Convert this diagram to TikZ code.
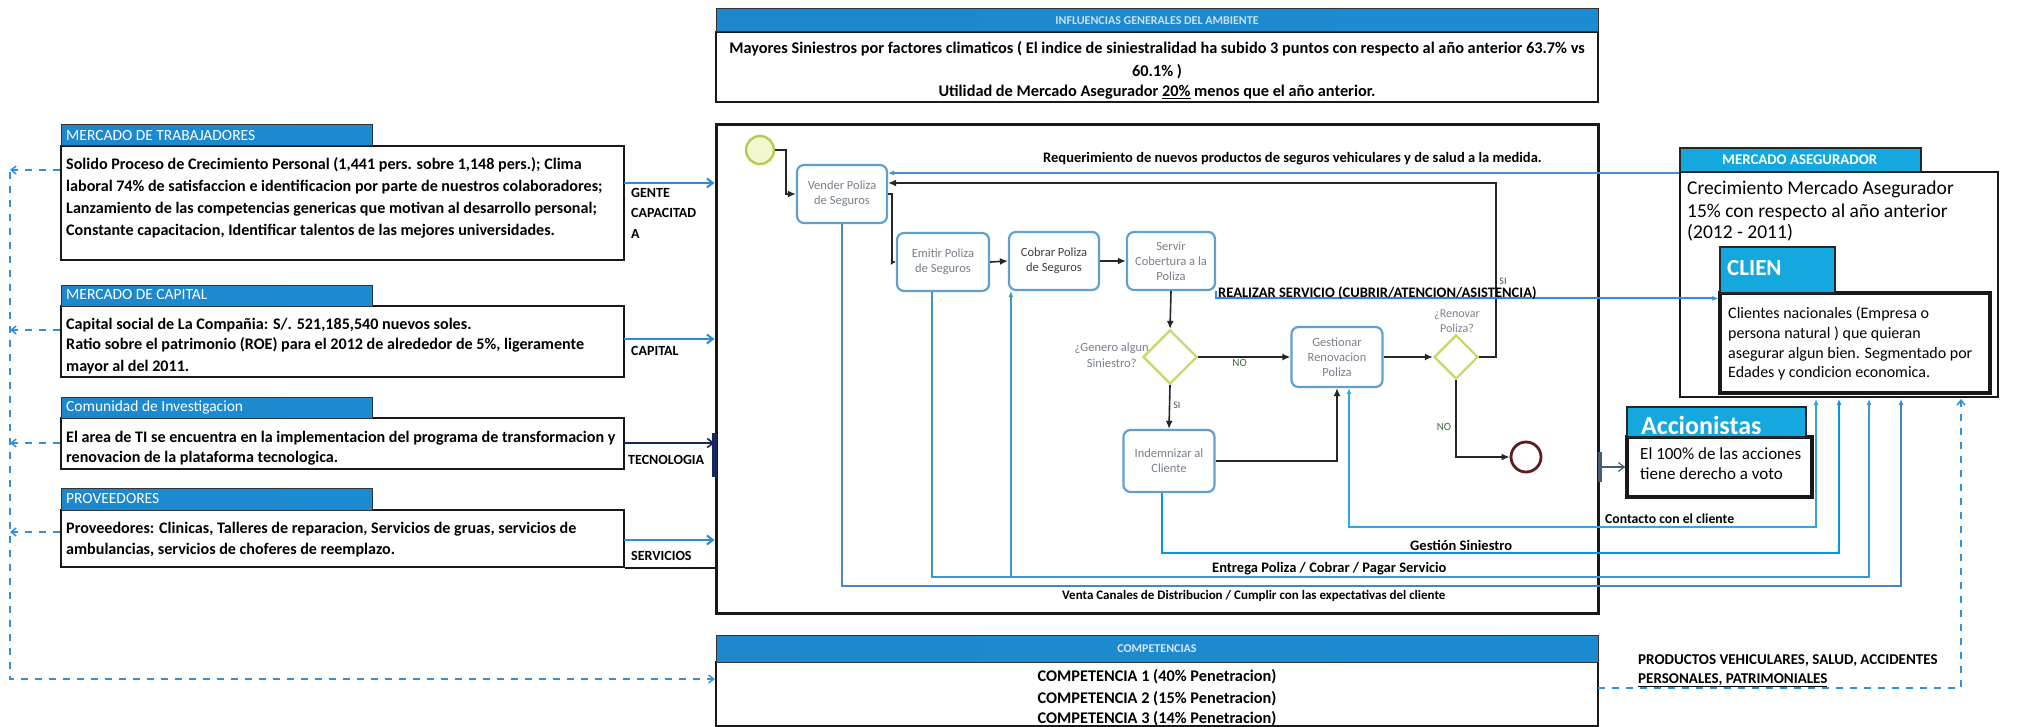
\documentclass[tikz,border=0pt]{standalone}
\usepackage{fontspec}
\setmainfont{Carlito}
\usetikzlibrary{arrows.meta,shapes.geometric,fit,calc}

\definecolor{hdrL}{RGB}{30,135,205}
\definecolor{hdrM}{RGB}{30,175,228}
\definecolor{hdrR}{RGB}{28,140,210}
\definecolor{cyanhdr}{RGB}{20,168,222}
\definecolor{taskblue}{RGB}{96,160,208}
\definecolor{gateyl}{RGB}{204,214,100}
\definecolor{startfill}{RGB}{242,247,205}
\definecolor{startline}{RGB}{178,204,80}
\definecolor{endline}{RGB}{92,30,30}
\definecolor{reqblue}{RGB}{72,142,202}
\definecolor{srvblue}{RGB}{52,142,212}
\definecolor{conblue}{RGB}{45,168,226}
\definecolor{gesblue}{RGB}{0,152,226}
\definecolor{entblue}{RGB}{62,148,208}
\definecolor{venblue}{RGB}{66,136,200}
\definecolor{dashblue}{RGB}{50,145,218}
\definecolor{inblue}{RGB}{45,140,212}
\definecolor{navyln}{RGB}{22,40,92}
\definecolor{slateln}{RGB}{72,92,122}
\definecolor{tasktext}{RGB}{120,128,138}
\definecolor{lblgreen}{RGB}{60,110,60}

\newcommand{\fs}[2]{\fontsize{#1}{#2}\selectfont}

\begin{document}
\begin{tikzpicture}[x=1pt,y=-1pt,
  frame/.style={draw=black!90, line width=2.4pt, fill=white, inner sep=0pt},
  hdr/.style={draw=black!80, line width=1pt, left color=hdrL, middle color=hdrM, right color=hdrR, inner sep=0pt},
  cyhdr/.style={draw=black!85, line width=2pt, fill=cyanhdr, inner sep=0pt},
  task/.style={draw=taskblue, line width=2.2pt, rounded corners=7pt, fill=white, align=center,
               text=tasktext, font=\fs{12.5}{15}, inner sep=1pt},
  gate/.style={diamond, aspect=1, draw=gateyl, line width=2.2pt, fill=white, inner sep=0pt},
  flow/.style={draw=black!85, line width=1.6pt, -{Latex[length=8pt,width=7pt]}},
  bl/.style={draw=#1, line width=2pt},
  btip/.style={-{Latex[length=6pt,width=5pt]}},
  dsh/.style={draw=dashblue, line width=1.5pt, dash pattern=on 7pt off 7pt},
  lt/.style={font=\bfseries\fs{16.1}{22}, anchor=base west, inner sep=0pt},
  lbl/.style={font=\bfseries\fs{14}{20}, anchor=base west, inner sep=0pt},
  ct/.style={font=\bfseries\fs{16.3}{22}, anchor=base, inner sep=0pt},
  ht/.style={font=\fs{15.5}{17}, text=white, anchor=west, inner sep=0pt},
  pl/.style={font=\bfseries\fs{14.5}{17}, anchor=base west, inner sep=0pt},
  sm/.style={font=\fs{12.5}{16}, text=tasktext, inner sep=0pt}
]
\useasboundingbox (0,0) rectangle (2044,727);
\fill[white] (0,0) rectangle (2044,727);

% ---------- environment influences (top) ----------
\node[frame, fit={(716,32)(1598,102)}] (topb) {};
\node[hdr, fit={(716,9)(1598,32)}] (toph) {};
\node[font=\bfseries\fs{12}{14}, text=white, opacity=.75, inner sep=0pt] (tophT) at (toph.center) {INFLUENCIAS GENERALES DEL AMBIENTE};
\node[ct] (tp1) at (1157,54) {Mayores Siniestros por factores climaticos ( El indice de siniestralidad ha subido 3 puntos con respecto al año anterior 63.7\% vs};
\node[ct] (tp2) at (1157,77) {60.1\% )};
\node[ct] (tp3) at (1157,97) {Utilidad de Mercado Asegurador \underline{20\%} menos que el año anterior.};

% ---------- left column: inputs ----------
\node[frame, fit={(61,146)(624,260)}] (b1) {};
\node[hdr, fit={(61,125)(372,146)}] (b1h) {};
\node[ht] (b1hT) at (66,136) {MERCADO DE TRABAJADORES};
\node[lt] (b1a) at (66,170) {Solido Proceso de Crecimiento Personal (1,441 pers. sobre 1,148 pers.); Clima};
\node[lt] (b1b) at (66,192) {laboral 74\% de satisfaccion e identificacion por parte de nuestros colaboradores;};
\node[lt] (b1c) at (66,214) {Lanzamiento de las competencias genericas que motivan al desarrollo personal;};
\node[lt] (b1d) at (66,236) {Constante capacitacion, Identificar talentos de las mejores universidades.};
\node[lbl] (l1a) at (631,198) {GENTE};
\node[lbl] (l1b) at (631,218) {CAPACITAD};
\node[lbl] (l1c) at (631,239) {A};

\node[frame, fit={(61,306)(624,377)}] (b2) {};
\node[hdr, fit={(61,285)(372,306)}] (b2h) {};
\node[ht] (b2hT) at (66,295) {MERCADO DE CAPITAL};
\node[lt] (b2a) at (66,329) {Capital social de La Compañia: S/. 521,185,540 nuevos soles.};
\node[lt] (b2b) at (66,349) {Ratio sobre el patrimonio (ROE) para el 2012 de alrededor de 5\%, ligeramente};
\node[lt] (b2c) at (66,371) {mayor al del 2011.};
\node[lbl] (l2) at (631,355) {CAPITAL};

\node[frame, fit={(61,418)(624,469)}] (b3) {};
\node[hdr, fit={(61,397)(372,418)}] (b3h) {};
\node[ht] (b3hT) at (66,407) {Comunidad de Investigacion};
\node[lt] (b3a) at (66,442) {El area de TI se encuentra en la implementacion del programa de transformacion y};
\node[lt] (b3b) at (66,462) {renovacion de la plataforma tecnologica.};
\node[lbl] (l3) at (628,464) {TECNOLOGIA};

\node[frame, fit={(61,510)(624,567)}] (b4) {};
\node[hdr, fit={(61,488)(372,510)}] (b4h) {};
\node[ht] (b4hT) at (66,499) {PROVEEDORES};
\node[lt] (b4a) at (66,533) {Proveedores: Clinicas, Talleres de reparacion, Servicios de gruas, servicios de};
\node[lt] (b4b) at (66,554) {ambulancias, servicios de choferes de reemplazo.};
\node[lbl] (l4) at (631,560) {SERVICIOS};

% ---------- process area ----------
\node[frame, line width=3pt, fit={(716,125)(1598,613)}] (proc) {};
\draw[navyln, line width=4.5pt] (proc.west |- 0,433) -- (proc.west |- 0,477);
\draw[slateln, line width=4pt] (proc.east |- 0,452) -- (proc.east |- 0,482);
\draw[black!90, line width=2.4pt] (b4.south east) -- (b4.south east -| proc.west);

% inputs into the process
\coordinate (gA) at (624,183);
\coordinate (gB) at (624,339);
\coordinate (gC) at (624,443);
\coordinate (gD) at (624,540);
\draw[bl=inblue, -{Straight Barb[length=6pt,width=9pt]}] (gA) -- (gA -| proc.west);
\draw[bl=inblue, -{Straight Barb[length=6pt,width=9pt]}] (gB) -- (gB -| proc.west);
\draw[navyln, line width=1.6pt, -{Straight Barb[length=6pt,width=9pt]}] (gC) -- (gC -| proc.west);
\draw[bl=inblue, -{Straight Barb[length=6pt,width=9pt]}] (gD) -- (gD -| proc.west);

% tasks and gateways
\node[circle, draw=startline, fill=startfill, line width=2.4pt, minimum size=28pt, inner sep=0pt] (start) at (760,150) {};
\node[task, minimum width=90pt, minimum height=58pt] (vender) at (842,194) {Vender Poliza\\de Seguros};
\node[task, minimum width=92pt, minimum height=58pt] (emitir) at (943,262) {Emitir Poliza\\de Seguros};
\node[task, minimum width=90pt, minimum height=58pt, text=black!75] (cobrar) at (1054,261) {Cobrar Poliza\\de Seguros};
\node[task, minimum width=88pt, minimum height=58pt] (servir) at (1171,261) {Servir\\Cobertura a la\\Poliza};
\node[gate, minimum width=54pt, minimum height=54pt] (d1) at (1170,357) {};
\node[task, minimum width=91pt, minimum height=60pt] (gest) at (1337,357) {Gestionar\\Renovacion\\Poliza};
\node[gate, minimum width=44pt, minimum height=44pt] (d2) at (1456,357) {};
\node[circle, draw=endline, fill=white, line width=2.8pt, minimum size=30pt, inner sep=0pt] (endev) at (1526,457) {};
\node[task, minimum width=91pt, minimum height=62pt] (indem) at (1169,461) {Indemnizar al\\Cliente};

\node[sm, align=center, anchor=east] (d1lbl) at (1149,355) {¿Genero algun\\Siniestro?};
\node[sm, align=center, font=\fs{12}{15}] (d2lbl) at (1457,321) {¿Renovar\\Poliza?};

% sequence flows
\draw[flow] (start.east) -- ++(11,0) |- (vender.west);
\draw[flow, -{Latex[length=5pt,width=6pt]}] (vender.east) -- ++(4,0) |- (emitir.west);
\draw[flow] (emitir.east) -- (cobrar.west);
\draw[flow] (cobrar.east) -- (servir.west);
\draw[flow] (servir.south) -- (d1.north);
\draw[flow] (d1.east) -- node[pos=.45, below=2pt, font=\fs{11}{13}, text=lblgreen, inner sep=0pt] (no1) {NO} (gest.west);
\draw[flow] (d1.south) -- node[pos=.45, right=3pt, font=\fs{10}{12}, text=black!70, inner sep=0pt] (si1) {SI} (indem.north);
\draw[flow] (gest.east) -- (d2.west);
\draw[flow] (d2.south) |- (endev.west);
\node[font=\fs{11}{13}, text=lblgreen, inner sep=0pt] (no2) at (1444,427) {NO};
\draw[flow] (indem.east) -| (gest.south);
\draw[flow] (d2.east) -- ++(17,0) |- ([yshift=11pt]vender.east);
\node[font=\fs{10}{12}, text=black!70, inner sep=0pt] (si2) at (1503,281) {SI};

% ---------- market, clients, shareholders ----------
\node[frame, fit={(1680,172)(1998,397)}] (merc) {};
\node[cyhdr, fit={(1680,148)(1921,172)}] (merch) {};
\node[font=\bfseries\fs{14.8}{16}, text=white, anchor=west, inner sep=0pt] (merchT) at (1722,160) {MERCADO ASEGURADOR};
\node[font=\fs{19.5}{22}, anchor=base west, inner sep=0pt] (m1) at (1687,195) {Crecimiento Mercado Asegurador};
\node[font=\fs{19.5}{22}, anchor=base west, inner sep=0pt] (m2) at (1687,218) {15\% con respecto al año anterior};
\node[font=\fs{19.5}{22}, anchor=base west, inner sep=0pt] (m3) at (1687,239) {(2012 - 2011)};

\node[frame, line width=3.2pt, fit={(1720,293)(1990,393)}] (cli) {};
\node[cyhdr, line width=2.4pt, fit={(1720,247)(1835,293)}] (clih) {};
\node[font=\bfseries\fs{23}{26}, text=white, anchor=west, inner sep=0pt] (clihT) at (1727,268) {CLIEN};
\node[font=\fs{16}{20}, anchor=base west, inner sep=0pt] (c1) at (1728,318) {Clientes nacionales  (Empresa o};
\node[font=\fs{16}{20}, anchor=base west, inner sep=0pt] (c2) at (1728,338) {persona natural ) que  quieran};
\node[font=\fs{16}{20}, anchor=base west, inner sep=0pt] (c3) at (1728,358) {asegurar algun bien. Segmentado por};
\node[font=\fs{16}{20}, anchor=base west, inner sep=0pt] (c4) at (1728,377) {Edades y condicion economica.};

\node[frame, line width=3.4pt, fit={(1627,437)(1812,497)}] (acc) {};
\node[cyhdr, line width=2.4pt, fit={(1627,407)(1806,437)}] (acch) {};
\node[font=\bfseries\fs{26}{30}, text=white, anchor=base west, inner sep=0pt] (acchT) at (1641,434) {Accionistas};
\node[font=\fs{17}{20}, anchor=base west, inner sep=0pt] (a1) at (1640,459) {El 100\% de las acciones};
\node[font=\fs{17}{20}, anchor=base west, inner sep=0pt] (a2) at (1640,479) {tiene derecho a voto};
\coordinate (accin) at (1598,467);
\draw[slateln, line width=1.2pt, -{Straight Barb[length=6pt,width=9pt]}] (accin) -- (accin -| acc.west);

% ---------- competitors (bottom) ----------
\node[frame, fit={(716,662)(1598,726)}] (comp) {};
\node[hdr, fit={(716,635)(1598,662)}] (comph) {};
\node[font=\bfseries\fs{12}{14}, text=white, opacity=.8, inner sep=0pt] (comphT) at (comph.center) {COMPETENCIAS};
\node[ct] (cp1) at (1157,681) {COMPETENCIA 1 (40\% Penetracion)};
\node[ct] (cp2) at (1157,703) {COMPETENCIA 2 (15\% Penetracion)};
\node[ct] (cp3) at (1157,723) {COMPETENCIA 3 (14\% Penetracion)};

% ---------- information flows with the client ----------
\coordinate (inA) at (1816,399);
\coordinate (inB) at (1839,399);
\coordinate (inC) at (1869,399);
\coordinate (inD) at (1901,399);
\coordinate (inE) at (1961,399);

\draw[bl=reqblue, btip] (merch.south west) -- (merch.south west -| vender.east);
\node[pl] (reqT) at (1043,163) {Requerimiento de nuevos productos de seguros vehiculares y de salud a la medida.};

\draw[bl=srvblue, btip] (servir.south east) |- ([yshift=-7pt]cli.north west);
\node[pl] (srvT) at (1218,298) {REALIZAR SERVICIO (CUBRIR/ATENCION/ASISTENCIA)};

\draw[bl=conblue, {Latex[length=6pt,width=5pt]}-{Latex[length=6pt,width=5pt]}] ([xshift=12pt]gest.south) -- ++(0,139) -| (inA);
\node[pl, font=\bfseries\fs{13.7}{16}] (conT) at (1605,523) {Contacto con el cliente};

\draw[bl=gesblue, btip] ([xshift=-7pt]indem.south) -- ++(0,60) -| (inB);
\node[pl] (gesT) at (1410,550) {Gestión Siniestro};

\draw[bl=entblue, btip] ([xshift=-11pt]emitir.south) -- ++(0,285) -| (inC);
\coordinate (cobin) at ([xshift=3pt]cobrar.south west);
\draw[bl=entblue, btip] (cobin |- 0,577) -- (cobin);
\node[pl] (entT) at (1212,572) {Entrega Poliza / Cobrar / Pagar Servicio};

\draw[bl=venblue, btip] (vender.south) -- ++(0,362) -| (inD);
\node[pl, font=\bfseries\fs{13}{15}] (venT) at (1062,599) {Venta Canales de Distribucion / Cumplir con las expectativas del cliente};

\coordinate (prodc) at (1598,688);
\draw[dsh, -{Straight Barb[length=5pt,width=8pt]}] (prodc) -| (inE);
\node[font=\bfseries\fs{15}{18}, anchor=base west, inner sep=0pt] (pr1) at (1638,664) {PRODUCTOS VEHICULARES, SALUD, ACCIDENTES};
\node[font=\bfseries\fs{15}{18}, anchor=base west, inner sep=0pt] (pr2) at (1638,683) {\underline{PERSONALES, PATRIMONIALES}};

% ---------- feedback to the environment (left dashed lines) ----------
\coordinate (lv) at (10,679);
\draw[dsh, -{Straight Barb[length=5pt,width=8pt]}] (10,172) -- (lv) -- (lv -| comp.west);
\draw[dsh, -{Straight Barb[length=5pt,width=8pt]}] (b1.west |- 0,170) -- (10,170);
\draw[dsh, -{Straight Barb[length=5pt,width=8pt]}] (b2.west |- 0,330) -- (10,330);
\draw[dsh, -{Straight Barb[length=5pt,width=8pt]}] (b3.west |- 0,443) -- (10,443);
\draw[dsh, -{Straight Barb[length=5pt,width=8pt]}] (b4.west |- 0,532) -- (10,532);
\end{tikzpicture}
\end{document}
